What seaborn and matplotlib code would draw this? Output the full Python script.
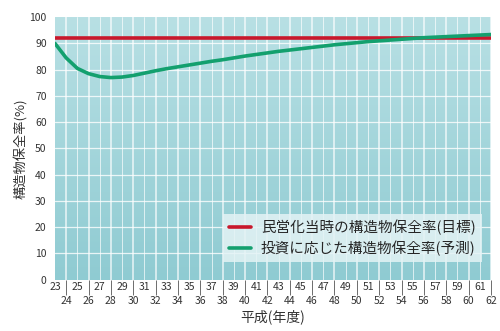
import numpy as np
import pandas as pd
import matplotlib
matplotlib.use("Agg")
import matplotlib.pyplot as plt
import seaborn as sns

# years (Heisei) and rates
years = list(range(23, 63))
target_rate = [92] * len(years)
forecast_rate = [90, 84.5, 80.5, 78.5, 77.4, 77.0, 77.2, 77.8, 78.7, 79.6,
                 80.4, 81.1, 81.8, 82.5, 83.2, 83.8, 84.5, 85.2, 85.8, 86.4,
                 87.0, 87.5, 88.0, 88.5, 89.0, 89.5, 89.9, 90.3, 90.7, 91.0,
                 91.3, 91.6, 91.9, 92.2, 92.4, 92.6, 92.8, 93.0, 93.2, 93.4]
label_target = "民営化当時の構造物保全率(目標)"
label_forecast = "投資に応じた構造物保全率(予測)"

df = pd.DataFrame({"year": years, "target": target_rate, "forecast": forecast_rate})

sns.set_theme(style="white")
plt.rcParams["font.family"] = ["Noto Sans CJK JP", "DejaVu Sans"]

fig, ax = plt.subplots(figsize=(5, 3.31), dpi=100)
fig.subplots_adjust(left=0.11, right=0.982, top=0.948, bottom=0.155)

# gradient background
grad = np.linspace(0, 1, 256).reshape(-1, 1)
cmap = matplotlib.colors.LinearSegmentedColormap.from_list("bg", ["#8fcbd2", "#b8e0e4"])
ax.imshow(grad, cmap=cmap, aspect="auto", extent=(23, 62, 0, 100), origin="lower", zorder=0)

for y in range(10, 100, 10):
    ax.axhline(y, color="white", lw=0.9, alpha=0.8, zorder=1)
for x in years[1:]:
    ax.axvline(x, color="white", lw=1.1 if x % 2 == 0 else 0.6, alpha=0.8, zorder=1)

sns.lineplot(data=df, x="year", y="target", ax=ax, color="#c8182c", lw=2.6,
             label=label_target, zorder=3)
sns.lineplot(data=df, x="year", y="forecast", ax=ax, color="#13a06e", lw=2.6,
             label=label_forecast, zorder=4)

ax.set_xlim(23, 62)
ax.set_ylim(0, 100)
ax.set_yticks(range(0, 101, 10))
ax.tick_params(axis="y", labelsize=7.5, length=0, pad=6, colors="#333333")

ax.set_xticks([y for y in years if y % 2 == 0])
ax.set_xticks([y for y in years if y % 2 == 1], minor=True)
ax.set_xticklabels([str(y) for y in years if y % 2 == 0])
ax.set_xticklabels([str(y) for y in years if y % 2 == 1], minor=True)
ax.tick_params(axis="x", which="major", labelsize=7.5, length=11, width=0.6,
               color="#555555", pad=1, colors="#333333")
ax.tick_params(axis="x", which="minor", labelsize=7.5, length=0, pad=2, colors="#333333")
ax.tick_params(axis="x", which="major", bottom=True, color="#555555")

for s in ax.spines.values():
    s.set_visible(False)

ax.set_xlabel("平成(年度)", fontsize=10, color="#333333", labelpad=2)
ax.set_ylabel("構造物保全率(%)", fontsize=9.5, color="#333333", labelpad=1)

leg = ax.legend(loc="lower right", bbox_to_anchor=(0.995, 0.04), fontsize=10.5,
                frameon=True, fancybox=False, handlelength=1.5, borderpad=0.4,
                labelspacing=0.35, handletextpad=0.7)
leg.get_frame().set_facecolor("#e4f3f5")
leg.get_frame().set_alpha(0.85)
leg.get_frame().set_linewidth(0)

plt.savefig("out.png", dpi=100)
